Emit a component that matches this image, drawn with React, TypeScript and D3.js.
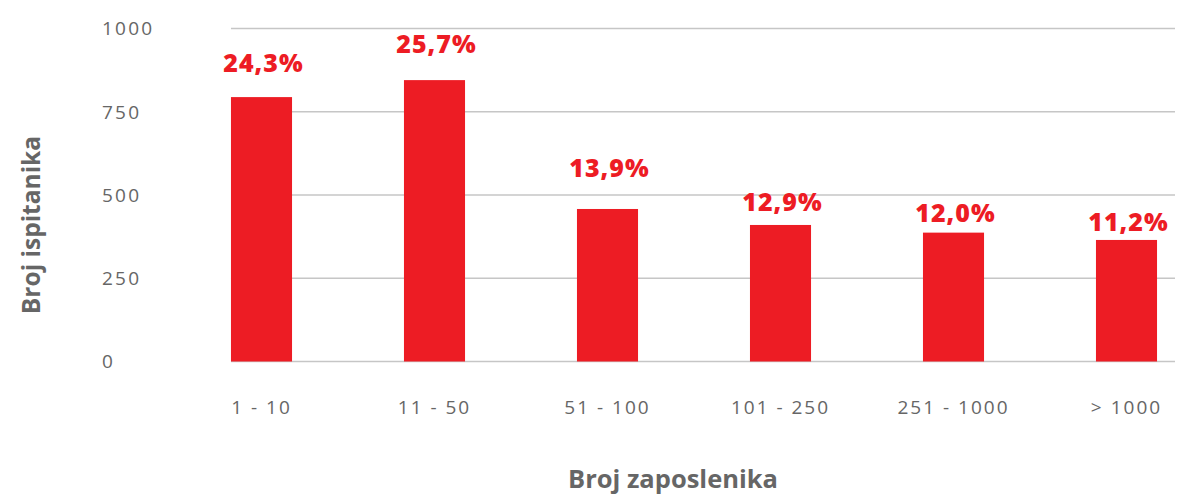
import { useEffect, useRef } from 'react';
import * as d3 from 'd3';

const categories = ['1 - 10', '11 - 50', '51 - 100', '101 - 250', '251 - 1000', '> 1000'];
const respondents = [794, 845, 458, 410, 387, 365];
const shareLabels = ['24,3%', '25,7%', '13,9%', '12,9%', '12,0%', '11,2%'];
const yTicks = [0, 250, 500, 750, 1000];

// label gaps above bars, as placed in the original
const labelGap = [25, 27, 32, 14, 11, 9];

const RED = '#ed1c24';
const GRAY = '#666666';
const FONT = '"Open Sans", sans-serif';

export default function App() {
    const svgRef = useRef<SVGSVGElement>(null);

    useEffect(() => {
        if (!svgRef.current) return;
        const width = 1179;
        const height = 495;

        const svg = d3.select(svgRef.current);
        svg.selectAll('*').remove();
        svg.attr('viewBox', `0 0 ${width} ${height}`);

        const x = d3.scaleBand()
            .domain(categories)
            .range([175, 1213])
            .paddingInner(0.647)
            .paddingOuter(0.3235);

        const y = d3.scaleLinear()
            .domain([0, 1000])
            .range([361.5, 28.5]);

        // gridlines
        svg.append('g')
            .selectAll('line')
            .data(yTicks)
            .enter()
            .append('line')
            .attr('x1', x(categories[0]) || 0)
            .attr('x2', 1175)
            .attr('y1', d => y(d))
            .attr('y2', d => y(d))
            .attr('stroke', '#c6c6c6')
            .attr('stroke-width', 1.5);

        // y tick labels
        svg.append('g')
            .selectAll('text')
            .data(yTicks)
            .enter()
            .append('text')
            .attr('x', 102)
            .attr('y', d => y(d))
            .attr('dy', '0.36em')
            .attr('fill', GRAY)
            .attr('font-family', FONT)
            .attr('font-size', 19)
            .attr('letter-spacing', 2.2)
            .text(d => d);

        const data = categories.map((c, i) => ({ c, v: respondents[i], label: shareLabels[i], gap: labelGap[i] }));

        // bars
        svg.append('g')
            .selectAll('rect')
            .data(data)
            .enter()
            .append('rect')
            .attr('x', d => x(d.c) || 0)
            .attr('y', d => y(d.v))
            .attr('width', x.bandwidth())
            .attr('height', d => y(0) - y(d.v))
            .attr('fill', RED);

        // value labels
        svg.append('g')
            .selectAll('text')
            .data(data)
            .enter()
            .append('text')
            .attr('x', d => (x(d.c) || 0) + x.bandwidth() / 2 + 2)
            .attr('y', d => y(d.v) - d.gap)
            .attr('text-anchor', 'middle')
            .attr('fill', RED)
            .attr('font-family', FONT)
            .attr('font-weight', 800)
            .attr('font-size', 25)
            .attr('letter-spacing', 1)
            .text(d => d.label);

        // x category labels
        svg.append('g')
            .selectAll('text')
            .data(categories)
            .enter()
            .append('text')
            .attr('x', d => (x(d) || 0) + x.bandwidth() / 2)
            .attr('y', 407)
            .attr('dy', '0.36em')
            .attr('text-anchor', 'middle')
            .attr('fill', GRAY)
            .attr('font-family', FONT)
            .attr('font-size', 19)
            .attr('letter-spacing', 2)
            .text(d => d);

        // axis titles
        svg.append('text')
            .attr('x', 673)
            .attr('y', 488)
            .attr('text-anchor', 'middle')
            .attr('fill', GRAY)
            .attr('font-family', FONT)
            .attr('font-weight', 'bold')
            .attr('font-size', 25.5)
            .text('Broj zaposlenika');

        svg.append('text')
            .attr('transform', 'translate(40,225) rotate(-90)')
            .attr('text-anchor', 'middle')
            .attr('fill', GRAY)
            .attr('font-family', FONT)
            .attr('font-weight', 'bold')
            .attr('font-size', 24.5)
            .text('Broj ispitanika');
    }, []);

    return (
        <svg
            ref={svgRef}
            width={1179}
            height={495}
            style={{ position: 'absolute', left: 0, top: 0, display: 'block', background: '#fff' }}
        />
    );
}
